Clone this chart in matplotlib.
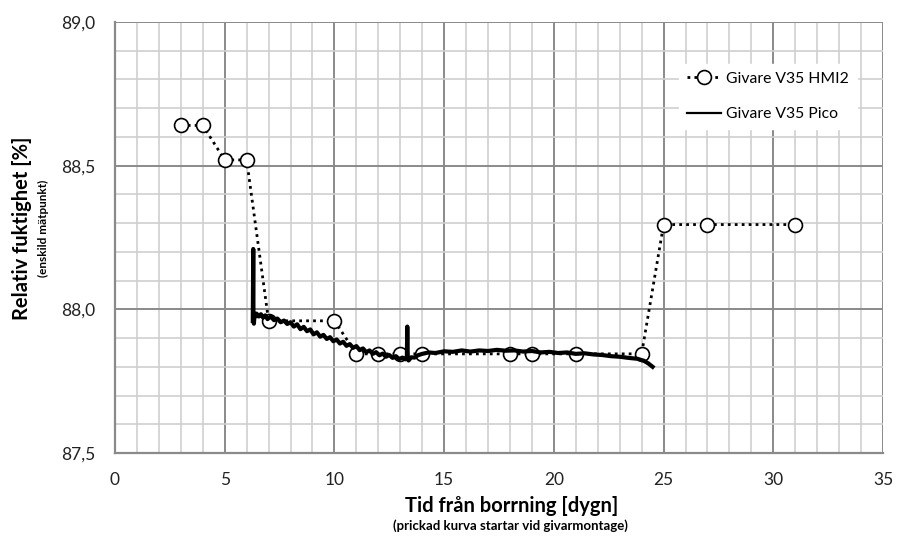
import matplotlib
matplotlib.use("Agg")
import matplotlib.pyplot as plt
from matplotlib.ticker import MultipleLocator, FuncFormatter

plt.rcParams['font.family'] = ['Lato', 'DejaVu Sans']

# HMI2 discrete readings
hmi_days = [3, 4, 5, 6, 7, 10, 11, 12, 13, 14, 18, 19, 21, 24, 25, 27, 31]
hmi_rh = [88.64, 88.64, 88.52, 88.52, 87.96, 87.96, 87.845, 87.845, 87.845,
          87.845, 87.845, 87.845, 87.845, 87.845, 88.295, 88.295, 88.295]

pico_days = [6.28, 6.30, 6.31, 6.33, 6.36, 6.40, 6.45, 6.55, 6.65, 6.75, 6.85, 6.95,
             7.1, 7.25, 7.4, 7.55, 7.7, 7.85, 8.0, 8.15, 8.3, 8.45, 8.6, 8.75, 8.9,
             9.05, 9.2, 9.35, 9.5, 9.65, 9.8, 9.95, 10.1, 10.25, 10.4, 10.55, 10.7,
             10.85, 11.0, 11.15, 11.3, 11.45, 11.6, 11.75, 11.9, 12.05, 12.2, 12.35,
             12.5, 12.65, 12.8, 12.95, 13.1, 13.25, 13.30, 13.32, 13.34, 13.38, 13.5,
             13.65, 13.8, 14.0, 14.3, 14.6, 15.0, 15.4, 15.8, 16.2, 16.6, 17.0, 17.4,
             17.8, 18.2, 18.6, 19.0, 19.4, 19.8, 20.2, 20.6, 21.0, 21.4, 21.8, 22.2,
             22.6, 23.0, 23.4, 23.8, 24.1, 24.3, 24.5]
pico_rh = [87.96, 88.21, 87.965, 87.95, 87.985, 87.975, 87.985, 87.975, 87.983, 87.971, 87.979, 87.966,
           87.975, 87.962, 87.968, 87.955, 87.961, 87.949, 87.955, 87.94, 87.948, 87.931, 87.939, 87.924, 87.93,
           87.913, 87.92, 87.905, 87.911, 87.897, 87.903, 87.889, 87.895, 87.881, 87.887, 87.873, 87.879,
           87.866, 87.872, 87.858, 87.864, 87.851, 87.857, 87.845, 87.851, 87.84, 87.846, 87.835,
           87.841, 87.831, 87.837, 87.827, 87.832, 87.826, 87.83, 87.94, 87.83, 87.822, 87.833,
           87.832, 87.84, 87.845, 87.85, 87.848, 87.854, 87.852, 87.857, 87.853, 87.857, 87.855, 87.859,
           87.856, 87.857, 87.853, 87.855, 87.85, 87.852, 87.848, 87.85, 87.845, 87.847, 87.843, 87.841,
           87.837, 87.835, 87.831, 87.828, 87.821, 87.812, 87.80]

fig = plt.figure(figsize=(9.03, 5.5), dpi=100)
ax = fig.add_axes([115/903, 1-453/550, (883-115)/903, (453-22)/550])

ax.plot(hmi_days, hmi_rh, linestyle=(0, (1, 1.5)), color='black', lw=2.0,
        marker='o', markersize=10, markerfacecolor='white', markeredgecolor='black',
        markeredgewidth=1.2, label='Givare V35 HMI2', zorder=3)
ax.plot(pico_days, pico_rh, color='black', lw=3.0, label='Givare V35 Pico', zorder=4)

ax.set_xlim(0, 35)
ax.set_ylim(87.5, 89.0)
ax.xaxis.set_major_locator(MultipleLocator(5))
ax.xaxis.set_minor_locator(MultipleLocator(1))
ax.yaxis.set_major_locator(MultipleLocator(0.5))
ax.yaxis.set_minor_locator(MultipleLocator(0.1))
ax.yaxis.set_major_formatter(FuncFormatter(lambda v, p: f"{v:.1f}".replace('.', ',')))
ax.grid(which='major', color='#8a8a8a', lw=1.4)
ax.grid(which='minor', color='#cfcfcf', lw=1.2)
ax.set_axisbelow(True)
ax.tick_params(which='both', length=0, labelsize=12.5, colors='#222222', pad=14)
for s in ['top', 'right']:
    ax.spines[s].set_visible(False)
for s in ['left', 'bottom']:
    ax.spines[s].set_color('#8a8a8a')
    ax.spines[s].set_linewidth(1.6)

leg = ax.legend(loc='upper left', bbox_to_anchor=(679/903, 1-64/550),
                bbox_transform=fig.transFigure, frameon=True, borderaxespad=0,
                fontsize=11.3, handlelength=2.2, borderpad=0.5, labelspacing=1.35,
                handletextpad=0.3, fancybox=False)
leg.get_frame().set_edgecolor('white')
leg.get_frame().set_facecolor('white')
leg.get_frame().set_alpha(1)
leg.legend_handles[1].set_linewidth(1.6)

fig.text(22/903, 1-228/550, 'Relativ fuktighet [%]', rotation=90, fontsize=14.5,
         fontweight='bold', ha='center', va='center')
fig.text(43/903, 1-228/550, '(enskild mätpunkt)', rotation=90, fontsize=8.5,
         fontweight='bold', ha='center', va='center')
fig.text(512/903, 1-506/550, 'Tid från borrning [dygn]', fontsize=14.5,
         fontweight='bold', ha='center', va='center')
fig.text(510/903, 1-526/550, '(prickad kurva startar vid givarmontage)', fontsize=9.5,
         fontweight='bold', ha='center', va='center')

fig.savefig('out.png', dpi=100)
